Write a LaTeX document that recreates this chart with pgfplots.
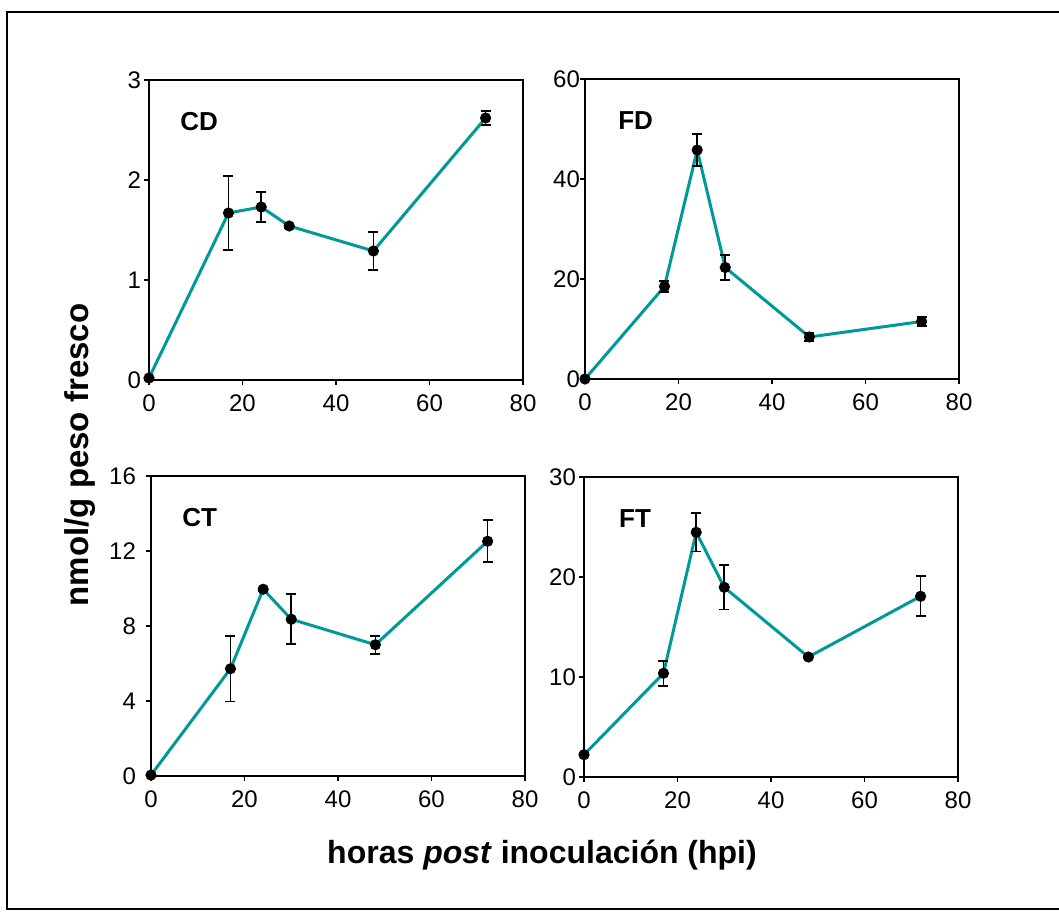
\documentclass[border=0pt]{standalone}
\usepackage{fontspec}
\setmainfont{Liberation Sans}
\usepackage{pgfplots}
\usepackage{pgfplotstable}
\pgfplotsset{compat=1.18}
\definecolor{tealline}{RGB}{0,153,153}

\pgfplotstableread{
x y e
0 0.02 0.0
17 1.67 0.37
24 1.73 0.15
30 1.54 0.02
48 1.29 0.19
72 2.62 0.07
}\dataCD
\pgfplotstableread{
x y e
0 0 0
17 18.5 1.05
24 45.8 3.25
30 22.3 2.5
48 8.4 0.75
72 11.5 0.9
}\dataFD
\pgfplotstableread{
x y e
0 0.05 0
17 5.72 1.75
24 9.96 0.1
30 8.36 1.33
48 7.0 0.48
72 12.52 1.12
}\dataCT
\pgfplotstableread{
x y e
0 2.23 0.15
17 10.37 1.25
24 24.47 1.93
30 18.97 2.23
48 12.0 0.1
72 18.07 2.0
}\dataFT

\pgfplotsset{
  panel/.style={
    scale only axis, width=187pt, height=150pt,
    xmin=0, xmax=80, xtick={0,20,40,60,80},
    tick align=outside, xtick pos=left, ytick pos=left,
    major tick length=2.5pt,
    axis line style={line width=0.75pt},
    tick style={black, line width=0.6pt},
    ticklabel style={font=\fontsize{12}{14}\selectfont},
    xticklabel style={yshift=-1.5pt},
    /pgf/number format/assume math mode=true,
    clip=false,
  },
  series/.style={
    tealline, line width=1.5pt,
    mark=*, mark options={black, fill=black, mark size=2pt},
    error bars/y dir=both, error bars/y explicit,
    error bars/error bar style={black, line width=0.85pt},
    error bars/error mark options={rotate=90, black, mark size=2.5pt, line width=0.85pt},
  },
}
\tikzset{plabel/.style={anchor=west, font=\fontsize{13}{15}\selectfont\bfseries}}

\begin{document}
\begin{tikzpicture}
\useasboundingbox (0pt,0pt) rectangle (529.5pt,455.5pt);
\draw[line width=1pt] (529.5pt,449.5pt) -- (3.5pt,449.5pt) -- (3.5pt,1pt) -- (529.5pt,1pt);

\begin{axis}[panel, at={(74.5pt,265.5pt)}, anchor=south west, ymin=0, ymax=3, ytick={0,1,2,3},
  yticklabel style={xshift=2pt}]
\addplot[series] table[x=x, y=y, y error=e] {\dataCD};
\node[plabel] at (rel axis cs:0.065,0.86) {CD};
\end{axis}

\begin{axis}[panel, at={(292.5pt,266pt)}, anchor=south west, ymin=0, ymax=60, ytick={0,20,40,60},
  yticklabel style={xshift=3.5pt}]
\addplot[series] table[x=x, y=y, y error=e] {\dataFD};
\node[plabel] at (rel axis cs:0.07,0.863) {FD};
\end{axis}

\begin{axis}[panel, at={(75.5pt,67.5pt)}, anchor=south west, ymin=0, ymax=16, ytick={0,4,8,12,16},
  yticklabel style={xshift=-1.5pt}]
\addplot[series] table[x=x, y=y, y error=e] {\dataCT};
\node[plabel] at (rel axis cs:0.065,0.863) {CT};
\end{axis}

\begin{axis}[panel, at={(292pt,67pt)}, anchor=south west, ymin=0, ymax=30, ytick={0,10,20,30},
  yticklabel style={xshift=2pt}]
\addplot[series] table[x=x, y=y, y error=e] {\dataFT};
\node[plabel] at (rel axis cs:0.075,0.863) {FT};
\end{axis}

\node[rotate=90, font=\fontsize{16.5}{19}\selectfont\bfseries] at (40pt,228pt) {nmol/g peso fresco};
\node[font=\fontsize{16}{19}\selectfont\bfseries] at (271pt,28pt) {horas \textit{post} inoculación (hpi)};
\end{tikzpicture}
\end{document}
